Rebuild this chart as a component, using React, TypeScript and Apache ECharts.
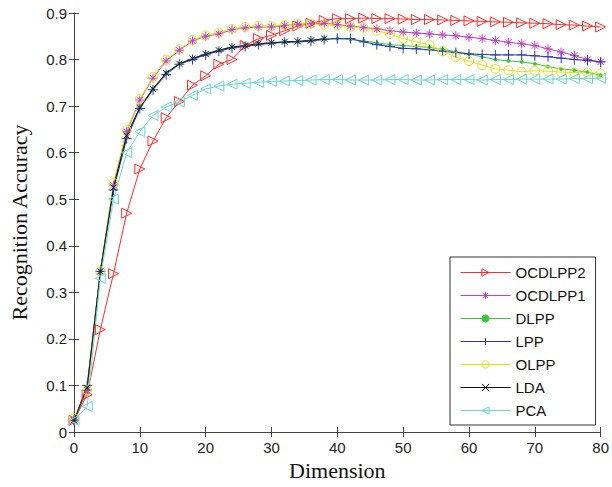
import React, { useEffect, useRef } from "react";
import * as echarts from "echarts";

const DIMS = [0, 2, 4, 6, 8, 10, 12, 14, 16, 18, 20, 22, 24, 26, 28, 30, 32, 34, 36, 38, 40, 42, 44, 46, 48, 50, 52, 54, 56, 58, 60, 62, 64, 66, 68, 70, 72, 74, 76, 78, 80];

const OCDLPP2 = [0.025, 0.08, 0.22, 0.34, 0.47, 0.565, 0.625, 0.675, 0.71, 0.745, 0.765, 0.79, 0.80, 0.83, 0.845, 0.852, 0.862, 0.872, 0.878, 0.884, 0.888, 0.888, 0.889, 0.888, 0.888, 0.887, 0.886, 0.886, 0.885, 0.884, 0.883, 0.882, 0.881, 0.88, 0.879, 0.878, 0.877, 0.875, 0.874, 0.872, 0.87];
const OCDLPP1 = [0.025, 0.09, 0.345, 0.53, 0.645, 0.713, 0.76, 0.797, 0.82, 0.84, 0.85, 0.855, 0.864, 0.868, 0.87, 0.87, 0.873, 0.876, 0.877, 0.878, 0.875, 0.872, 0.869, 0.866, 0.862, 0.859, 0.857, 0.855, 0.853, 0.851, 0.848, 0.845, 0.841, 0.837, 0.834, 0.83, 0.823, 0.816, 0.809, 0.80, 0.795];
const DLPP = [0.025, 0.095, 0.345, 0.525, 0.637, 0.697, 0.737, 0.771, 0.791, 0.802, 0.812, 0.82, 0.827, 0.83, 0.834, 0.836, 0.838, 0.839, 0.841, 0.845, 0.845, 0.843, 0.84, 0.836, 0.832, 0.83, 0.828, 0.826, 0.822, 0.817, 0.812, 0.806, 0.80, 0.797, 0.795, 0.791, 0.785, 0.78, 0.777, 0.773, 0.766];
const LPP = [0.025, 0.1, 0.345, 0.52, 0.63, 0.695, 0.735, 0.768, 0.79, 0.80, 0.81, 0.818, 0.825, 0.828, 0.832, 0.835, 0.837, 0.838, 0.84, 0.843, 0.845, 0.845, 0.838, 0.832, 0.828, 0.824, 0.823, 0.821, 0.818, 0.815, 0.812, 0.811, 0.81, 0.81, 0.81, 0.808, 0.806, 0.803, 0.80, 0.798, 0.795];
const OLPP = [0.03, 0.09, 0.345, 0.535, 0.648, 0.715, 0.763, 0.80, 0.822, 0.842, 0.852, 0.858, 0.866, 0.87, 0.872, 0.872, 0.874, 0.876, 0.877, 0.875, 0.873, 0.87, 0.868, 0.862, 0.855, 0.845, 0.838, 0.832, 0.818, 0.805, 0.797, 0.788, 0.78, 0.777, 0.774, 0.776, 0.775, 0.773, 0.772, 0.772, 0.77];
const LDA = [0.025, 0.095, 0.345, 0.525, 0.637, 0.697, 0.737, 0.771, 0.791, 0.802, 0.812, 0.82, 0.827, 0.83, 0.834, 0.836, 0.838, 0.839, 0.841, 0.845];
const PCA = [0.025, 0.055, 0.33, 0.50, 0.60, 0.645, 0.68, 0.698, 0.709, 0.723, 0.737, 0.743, 0.747, 0.749, 0.751, 0.753, 0.754, 0.755, 0.756, 0.757, 0.757, 0.756, 0.756, 0.756, 0.757, 0.757, 0.756, 0.756, 0.757, 0.757, 0.757, 0.756, 0.757, 0.757, 0.758, 0.758, 0.758, 0.758, 0.759, 0.759, 0.76];

const Y_TICKS = ["0", "0.1", "0.2", "0.3", "0.4", "0.5", "0.6", "0.7", "0.8", "0.9"];

const SYM_RIGHT = "path://M0,0L10,5L0,10Z";
const SYM_LEFT = "path://M10,0L0,5L10,10Z";
const SYM_STAR = "path://M5,0L5,10M0,5L10,5M1.5,1.5L8.5,8.5M8.5,1.5L1.5,8.5";
const SYM_PLUS = "path://M5,0L5,10M0,5L10,5";
const SYM_X = "path://M0,0L10,10M10,0L0,10";

type S = { name: string; vals: number[]; color: string; symbol: string; size: number; filled: boolean };

export default function App() {
  const ref = useRef<HTMLDivElement>(null);
  useEffect(() => {
    if (!ref.current) return;
    const chart = echarts.init(ref.current, undefined, { renderer: "svg" });
    const defs: S[] = [
      { name: "OCDLPP2", vals: OCDLPP2, color: "#ff2a2a", symbol: SYM_RIGHT, size: 10, filled: false },
      { name: "OCDLPP1", vals: OCDLPP1, color: "#c040c8", symbol: SYM_STAR, size: 9, filled: false },
      { name: "DLPP", vals: DLPP, color: "#33cc33", symbol: "circle", size: 3, filled: true },
      { name: "LPP", vals: LPP, color: "#2a36b8", symbol: SYM_PLUS, size: 10, filled: false },
      { name: "OLPP", vals: OLPP, color: "#e6e010", symbol: "circle", size: 9, filled: false },
      { name: "LDA", vals: LDA, color: "#111111", symbol: SYM_X, size: 6, filled: false },
      { name: "PCA", vals: PCA, color: "#66d8d0", symbol: SYM_LEFT, size: 10, filled: false },
    ];
    const series = defs.map((d) => ({
      name: d.name,
      type: "line",
      data: d.vals.map((v, i) => [DIMS[i], v]),
      symbol: d.symbol,
      symbolSize: d.size,
      symbolKeepAspect: true,
      showAllSymbol: true,
      lineStyle: { color: d.color, width: 1 },
      itemStyle: { color: d.filled ? d.color : "transparent", borderColor: d.color, borderWidth: 1 },
      emphasis: { disabled: true },
      z: 2,
    }));
    const legendData = defs.map((d) => ({
      name: d.name,
      itemStyle: { color: d.filled ? d.color : "transparent", borderColor: d.color, borderWidth: 1 },
      lineStyle: { color: d.color, width: 1 },
    }));
    const axisCommon = {
      axisLine: { show: true, lineStyle: { color: "#444", width: 1 } },
      axisTick: { show: true, inside: true, length: 5, lineStyle: { color: "#444" } },
      splitLine: { show: false },
    };
    chart.setOption({
      animation: false,
      backgroundColor: "#fff",
      grid: { left: 73.5, right: 6, top: 13, bottom: 55, containLabel: false },
      xAxis: [
        {
          type: "value",
          min: 0,
          max: 80,
          interval: 10,
          position: "bottom",
          name: "Dimension",
          nameLocation: "middle",
          nameGap: 27,
          nameTextStyle: { fontFamily: "Liberation Serif", fontSize: 22, color: "#111" },
          axisLabel: { fontFamily: "Liberation Sans", fontSize: 15, color: "#222", margin: 8 },
          ...axisCommon,
        },
        {
          type: "value",
          min: 0,
          max: 80,
          interval: 10,
          position: "top",
          axisLabel: { show: false },
          ...axisCommon,
        },
      ],
      yAxis: [
        {
          type: "value",
          min: 0,
          max: 0.9,
          interval: 0.1,
          position: "left",
          name: "Recognition Accuracy",
          nameLocation: "middle",
          nameGap: 44,
          nameRotate: 90,
          nameTextStyle: { fontFamily: "Liberation Serif", fontSize: 22, color: "#111" },
          axisLabel: {
            fontFamily: "Liberation Sans",
            fontSize: 15,
            color: "#222",
            margin: 7,
            formatter: (v: number) => Y_TICKS[Math.round(v * 10)] ?? "",
          },
          ...axisCommon,
        },
        {
          type: "value",
          min: 0,
          max: 0.9,
          interval: 0.1,
          position: "right",
          axisLabel: { show: false },
          ...axisCommon,
        },
      ],
      legend: {
        orient: "vertical",
        left: 450,
        top: 257,
        itemWidth: 50,
        itemHeight: 9,
        itemGap: 8,
        padding: [8, 10, 7, 10],
        borderColor: "#333",
        borderWidth: 1,
        backgroundColor: "#fff",
        textStyle: { fontFamily: "Liberation Sans", fontSize: 15, color: "#111" },
        selectedMode: false,
        data: legendData,
      },
      series,
    });
    return () => chart.dispose();
  }, []);
  return <div ref={ref} style={{ position: "fixed", left: 0, top: 0, width: 612, height: 487 }} />;
}
